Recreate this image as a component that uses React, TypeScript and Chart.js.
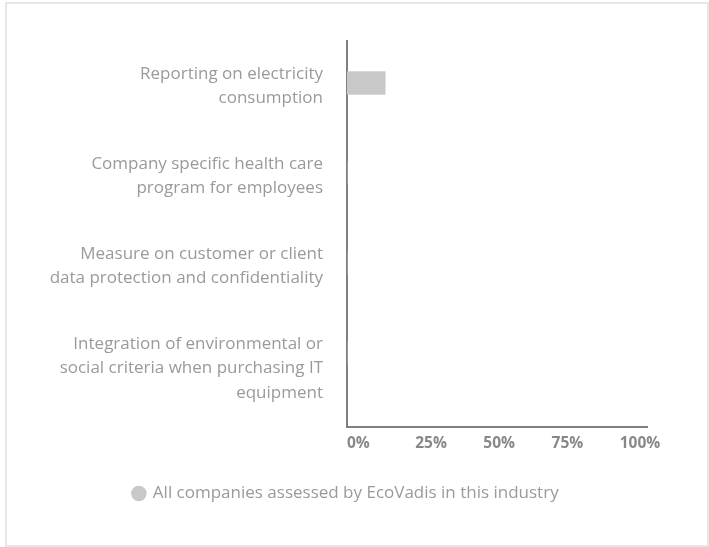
import React, { useEffect, useRef } from "react";
import { Chart, registerables } from "chart.js";

Chart.register(...registerables);

const categories: string[][] = [
  ["Reporting on electricity", "consumption"],
  ["Company specific health care", "program for employees"],
  ["Measure on customer or client", "data protection and confidentiality"],
  ["Integration of environmental or", "social criteria when purchasing IT", "equipment"],
];
const seriesLabel = "All companies assessed by EcoVadis in this industry";
const seriesValues = [14, 0, 0, 0];
const xTickValues = [0, 25, 50, 75, 100];

const FONT = "'Open Sans', 'Noto Sans', sans-serif";

export default function App() {
  const ref = useRef<HTMLCanvasElement>(null);

  useEffect(() => {
    if (!ref.current) return;
    const chart = new Chart(ref.current, {
      type: "bar",
      data: {
        datasets: [
          {
            label: seriesLabel,
            data: seriesValues.map((v, i) => ({ x: v, y: i })),
            backgroundColor: "#c8c8c8",
            borderWidth: 0,
            barThickness: 23,
          },
        ],
      },
      options: {
        indexAxis: "y",
        responsive: false,
        animation: false,
        layout: { padding: { top: 21, right: 25, bottom: 8, left: 25 } },
        plugins: {
          tooltip: { enabled: false },
          legend: {
            position: "bottom",
            labels: {
              usePointStyle: true,
              pointStyle: "circle",
              boxWidth: 11,
              boxHeight: 11,
              padding: 10,
              color: "#9a9a9a",
              font: { family: FONT, size: 17 },
            },
          },
        },
        scales: {
          x: {
            type: "linear",
            min: 0,
            max: 110,
            offset: false,
            grid: { display: false, drawTicks: false },
            border: { color: "#7f7f7f", width: 2 },
            ticks: {
              align: "start",
              autoSkip: false,
              maxRotation: 0,
              padding: 7,
              color: "#888888",
              font: { family: FONT, size: 15.5, weight: "bold" },
              callback: (v: any) => `${v}%`,
            },
            afterBuildTicks: (s: any) => {
              s.ticks = xTickValues.map((v) => ({ value: v }));
            },
            afterFit: (s: any) => {
              s.height = 48;
              s.paddingLeft = 0;
              s.paddingRight = 0;
            },
          },
          y: {
            type: "linear",
            reverse: true,
            offset: false,
            min: -0.467,
            max: 3.822,
            grid: { display: false, drawTicks: false, offset: false },
            border: { color: "#7f7f7f", width: 2 },
            ticks: {
              autoSkip: false,
              padding: 24,
              labelOffset: 3,
              color: "#9a9a9a",
              font: { family: FONT, size: 17, lineHeight: 1.44 },
              callback: (v: any) => {
                const lines = categories[v as number];
                if (!lines) return "";
                const pad = Math.max(0, lines.length - 2);
                return [...Array(pad).fill(""), ...lines];
              },
            },
            afterBuildTicks: (s: any) => {
              s.ticks = categories.map((_, i) => ({ value: i }));
            },
            afterFit: (s: any) => {
              s.width = 302;
              s.paddingTop = 0;
              s.paddingBottom = 0;
            },
          },
        },
      } as any,
    });
    return () => chart.destroy();
  }, []);

  return (
    <>
      <div
        style={{
          position: "absolute",
          left: 5,
          top: 2,
          width: 704,
          height: 545,
          border: "2px solid #e6e6e6",
          boxSizing: "border-box",
        }}
      />
      <canvas
        ref={ref}
        width={652}
        height={500}
        style={{ position: "absolute", left: 20, top: 20, width: 652, height: 500 }}
      />
    </>
  );
}
